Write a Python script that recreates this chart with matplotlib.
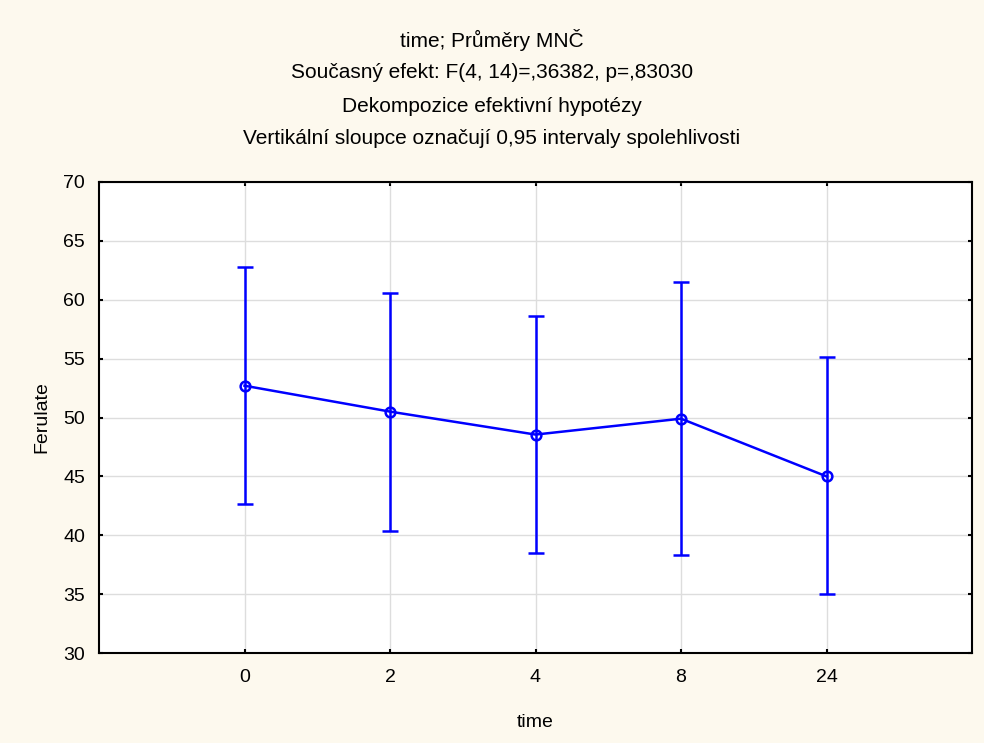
import matplotlib
matplotlib.use('Agg')
import matplotlib.pyplot as plt
from matplotlib import font_manager

# data
time_labels = ['0', '2', '4', '8', '24']
means = [52.7, 50.5, 48.55, 49.9, 45.0]
upper = [62.75, 60.55, 58.6, 61.5, 55.1]
lower = [42.65, 40.4, 38.5, 38.3, 35.0]

titles = [
    "time; Průměry MNČ",
    "Současný efekt: F(4, 14)=,36382, p=,83030",
    "Dekompozice efektivní hypotézy",
    "Vertikální sloupce označují 0,95 intervaly spolehlivosti",
]

names = {f.name for f in font_manager.fontManager.ttflist}
narrow = 'Liberation Sans Narrow' if 'Liberation Sans Narrow' in names else 'Liberation Sans'
title_size = 16 if narrow == 'Liberation Sans Narrow' else 15
plt.rcParams['font.family'] = ['Liberation Sans', 'DejaVu Sans']

bg = '#fdf9ee'
fig = plt.figure(figsize=(9.84, 7.43), dpi=100, facecolor=bg)
ax = fig.add_axes([99 / 984, 1 - 653 / 743, (972 - 99) / 984, (653 - 182) / 743])
ax.set_facecolor('white')

x = list(range(len(time_labels)))
err_lo = [m - l for m, l in zip(means, lower)]
err_hi = [u - m for m, u in zip(means, upper)]
ax.errorbar(x, means, yerr=[err_lo, err_hi], color='#0000ff', lw=1.8,
            marker='o', markersize=7, markerfacecolor='none', markeredgewidth=1.8,
            capsize=5.5, capthick=1.8, elinewidth=1.8, zorder=3)

ax.set_xlim(-1, 5)
ax.set_ylim(30, 70)
ax.set_xticks(x)
ax.set_xticklabels(time_labels)
ax.set_yticks(range(30, 71, 5))
ax.grid(True, color='#dddddd', lw=1)
ax.set_axisbelow(True)
ax.tick_params(direction='in', length=3, width=1.5, labelsize=14,
               top=True, right=True, pad=10)
ax.tick_params(axis='x', pad=11.5)
for s in ax.spines.values():
    s.set_linewidth(1.5)
    s.set_color('black')

ax.set_xlabel('time', fontsize=14, labelpad=20)
ax.set_ylabel('Ferulate', fontsize=14, labelpad=9)

for i, t in enumerate(titles):
    fig.text(0.5, 1 - (40 + 33 * i) / 743, t, ha='center', va='center',
             fontsize=title_size, family=[narrow, 'DejaVu Sans'])

fig.savefig('out.png', dpi=100, facecolor=bg)
